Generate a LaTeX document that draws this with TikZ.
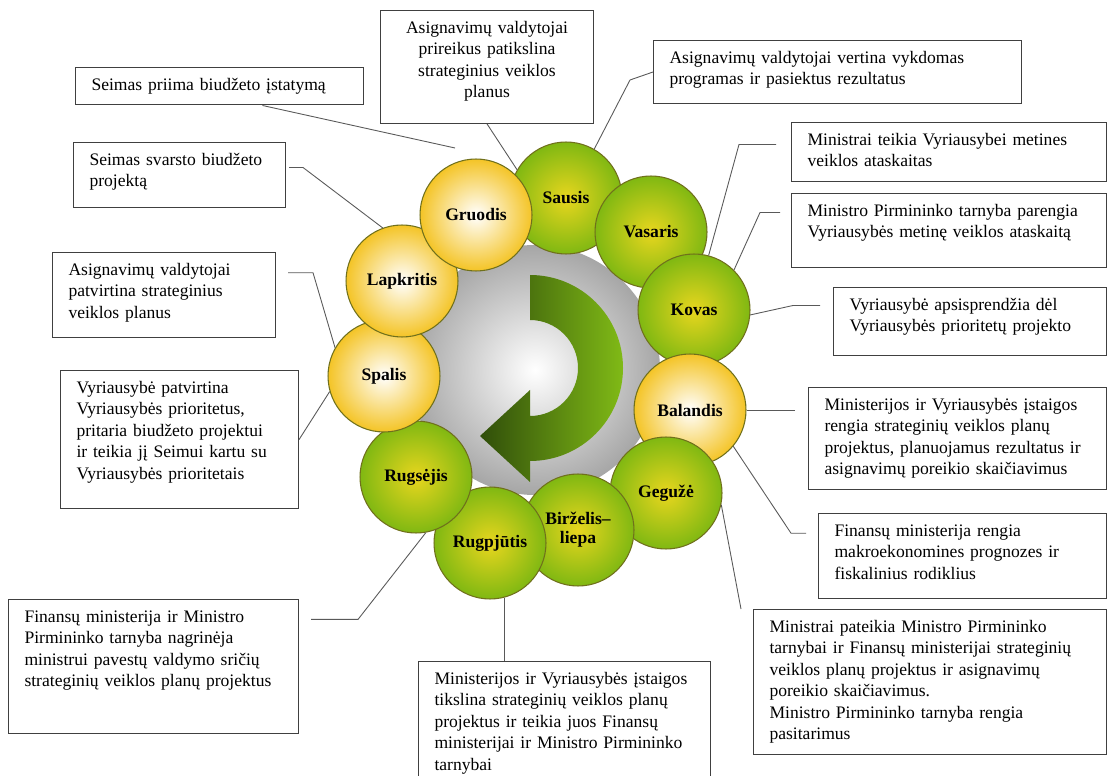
\documentclass[tikz,border=0pt]{standalone}
\usepackage{fontspec}
\setmainfont{Liberation Serif}

\definecolor{ringgreen}{RGB}{128,184,18}
\definecolor{ringgreenin}{RGB}{232,214,30}
\definecolor{ringyellow}{RGB}{244,196,38}
\definecolor{ringedge}{RGB}{112,112,28}
\definecolor{arrowdark}{RGB}{48,78,10}
\definecolor{arrowlight}{RGB}{128,186,22}

\newcommand{\padbot}[1]{\rule[-#1]{0pt}{#1}}

\begin{document}
\begin{tikzpicture}[x=0.02cm, y=-0.02cm]
  \tikzstyle{month} = [circle, draw=ringedge, line width=0.6pt, minimum size=2.24cm, inner sep=0pt, align=center, font=\bfseries\fontsize{10}{11}\selectfont]
  \tikzstyle{green} = [month, inner color=ringgreenin, outer color=ringgreen]
  \tikzstyle{yellow} = [month, inner color=white, outer color=ringyellow]
  \tikzstyle{note} = [draw=black!75, line width=0.6pt, fill=white, anchor=north west, align=left, inner xsep=0.32cm, inner ysep=0.16cm, font=\fontsize{10}{12.2}\selectfont, execute at begin node=\strut, execute at end node=\strut]
  \tikzstyle{link} = [draw=black!65, line width=0.5pt]

  \path[use as bounding box, fill=white] (0,0) rectangle (1108,776);

  \shade[inner color=white, outer color=black!35] (535,370) circle[radius=125];
  \shade[left color=arrowdark, right color=arrowlight] (530,275) arc[start angle=-90, end angle=90, radius=93]
    -- (530,482) -- (480,436) -- (530,390) -- (530,416) arc[start angle=90, end angle=-90, radius=48] -- cycle;

  \node[green] (sausis) at (566,198) {Sausis};
  \node[green] (vasaris) at (651,232) {Vasaris};
  \node[green] (kovas) at (694,310) {Kovas};
  \node[yellow] (balandis) at (690,410) {Balandis};
  \node[green] (geguze) at (666,493) {Gegužė};
  \node[green] (birzelis) at (578,530) {Birželis–\\liepa};
  \node[green] (rugpjutis) at (490,543) {Rugpjūtis};
  \node[green] (rugsejis) at (416,477) {Rugsėjis};
  \node[yellow] (spalis) at (384,376) {Spalis};
  \node[yellow] (lapkritis) at (402,281) {Lapkritis};
  \node[yellow] (gruodis) at (476,215) {Gruodis};

  \node[note, text width=5.12cm] (priima) at (75,67) {Seimas priima biudžeto įstatymą};
  \node[note, text width=3.62cm, align=center] (patikslina) at (380,10) {Asignavimų valdytojai\\ prireikus patikslina\\ strateginius veiklos\\ planus\padbot{0.35cm}};
  \node[note, text width=6.72cm] (vertina) at (653,40) {Asignavimų valdytojai vertina vykdomas\\ programas ir pasiektus rezultatus\padbot{0.21cm}};
  \node[note, text width=5.66cm] (teikia) at (791,122) {Ministrai teikia Vyriausybei metines\\ veiklos ataskaitas};
  \node[note, text width=5.66cm] (parengia) at (791,193) {Ministro Pirmininko tarnyba parengia\\ Vyriausybės metinę veiklos ataskaitą\padbot{0.43cm}};
  \node[note, text width=4.82cm] (apsisprendzia) at (833,287) {Vyriausybė apsisprendžia dėl\\ Vyriausybės prioritetų projekto\padbot{0.31cm}};
  \node[note, text width=5.32cm] (rengia) at (808,387) {Ministerijos ir Vyriausybės įstaigos\\ rengia strateginių veiklos planų\\ projektus, planuojamus rezultatus ir\\ asignavimų poreikio skaičiavimus};
  \node[note, text width=5.12cm] (prognozes) at (818,513) {Finansų ministerija rengia\\ makroekonomines prognozes ir\\ fiskalinius rodiklius\padbot{0.23cm}};
  \node[note, text width=6.42cm] (pateikia) at (753,609) {Ministrai pateikia Ministro Pirmininko\\ tarnybai ir Finansų ministerijai strateginių\\ veiklos planų projektus ir asignavimų\\ poreikio skaičiavimus.\\ Ministro Pirmininko tarnyba rengia\\ pasitarimus};
  \node[note, text width=5.2cm] (tikslina) at (418,661) {Ministerijos ir Vyriausybės įstaigos\\ tikslina strateginių veiklos planų\\ projektus ir teikia juos Finansų\\ ministerijai ir Ministro Pirmininko\\ tarnybai};
  \node[note, text width=5.16cm] (nagrineja) at (8,599) {Finansų ministerija ir Ministro\\ Pirmininko tarnyba nagrinėja\\ ministrui pavestų valdymo sričių\\ strateginių veiklos planų projektus\padbot{0.77cm}};
  \node[note, text width=4.12cm] (pritaria) at (60,370) {Vyriausybė patvirtina\\ Vyriausybės prioritetus,\\ pritaria biudžeto projektui\\ ir teikia jį Seimui kartu su\\ Vyriausybės prioritetais\padbot{0.43cm}};
  \node[note, text width=3.82cm] (patvirtina) at (52,252) {Asignavimų valdytojai\\ patvirtina strateginius\\ veiklos planus\padbot{0.23cm}};
  \node[note, text width=3.6cm] (svarsto) at (73,142) {Seimas svarsto biudžeto\\ projektą\padbot{0.25cm}};

  \coordinate (e1) at (455,148);

  \draw[link] ([xshift=0.86cm]priima.south) -- (e1);
  \draw[link] (patikslina.south) -- (sausis.150);
  \draw[link] (vertina.west) -- ++(-23,8) -- (sausis.60);
  \draw[link, shorten <=0.3cm] ([yshift=0.15cm]teikia.west) -- ++(-52,0) -- (kovas.75);
  \draw[link, shorten <=0.22cm] ([yshift=0.36cm]parengia.west) -- ++(-31,0) -- (kovas.45);
  \draw[link, shorten <=0.26cm] ([yshift=0.32cm]apsisprendzia.west) -- ++(-40,0) -- (kovas.-5);
  \draw[link, shorten <=0.26cm] (rengia.west |- balandis.east) -- (balandis.east);
  \draw[link, shorten <=0.24cm] ([yshift=0.46cm]prognozes.west) -- ++(-27,0) -- (balandis.-40);
  \draw[link] ([xshift=-0.24cm]pateikia.north west) -- (geguze.-12);
  \draw[link] (rugpjutis.-75) -- (rugpjutis.-75 |- tikslina.north);
  \draw[link, shorten <=0.24cm] ([yshift=0.94cm]nagrineja.east) -- ++(59,0) -- (rugsejis.-80);
  \draw[link] (pritaria.east) -- (spalis.196);
  \draw[link, shorten <=0.24cm] ([yshift=0.45cm]patvirtina.east) -- ++(37,0) -- (spalis.150);
  \draw[link, shorten <=0.06cm] ([yshift=0.15cm]svarsto.east) -- ++(17,0) -- (lapkritis.110);

\end{tikzpicture}
\end{document}
